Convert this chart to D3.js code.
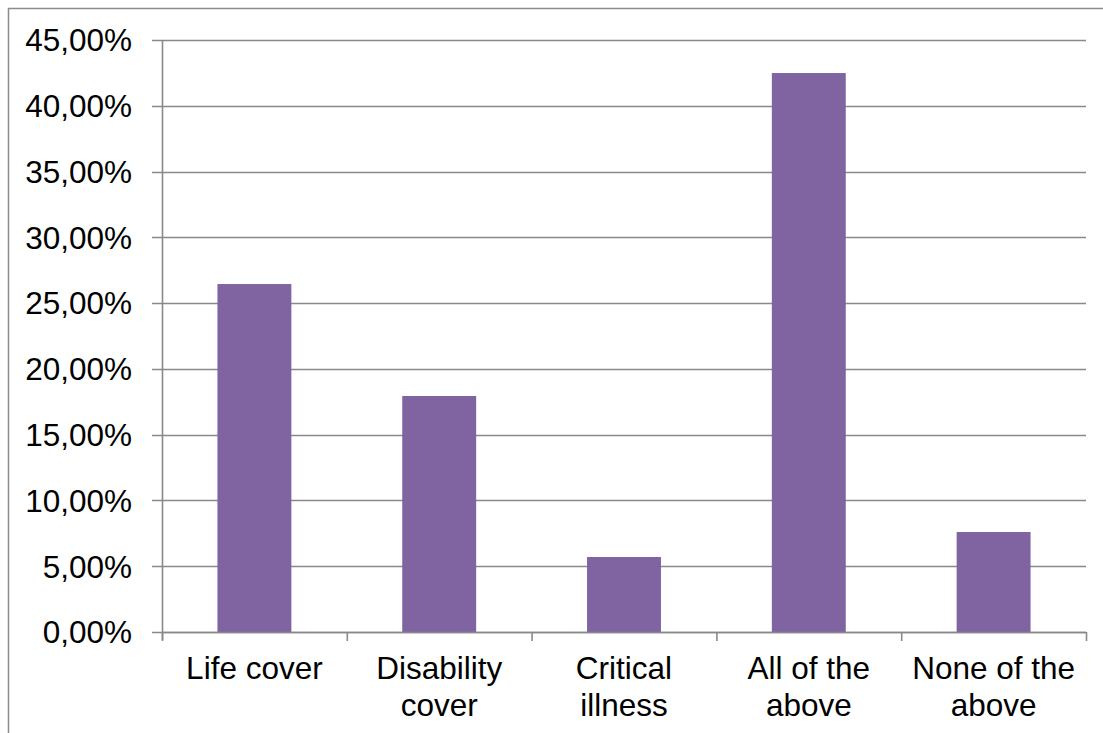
<!DOCTYPE html>
<html>
<head>
<meta charset="utf-8">
<script src="https://cdn.jsdelivr.net/npm/d3@7"></script>
<style>
  html, body { margin: 0; padding: 0; background: #fff; }
  svg { display: block; }
</style>
</head>
<body>
<svg id="chart" width="1103" height="733"></svg>
<script>
const categories = [["Life cover"], ["Disability", "cover"], ["Critical", "illness"], ["All of the", "above"], ["None of the", "above"]];
const values = [26.45, 17.94, 5.70, 42.49, 7.60];
const yTicks = [0, 5, 10, 15, 20, 25, 30, 35, 40, 45];

const svg = d3.select("#chart");
const W = 1103, H = 733;
const plotLeft = 162, plotRight = 1086, plotTop = 40, plotBottom = 632;
const font = "'Liberation Sans', Arial, sans-serif";
const fontSize = 31.5;
const gridColor = "#898989";

// outer frame (left and top edges)
svg.append("path")
  .attr("d", `M8.5,${H} L8.5,8.5 L${W},8.5`)
  .attr("fill", "none").attr("stroke", "#8c8c8c").attr("stroke-width", 1.5);

const labels = categories.map(c => c.join(" "));
const x = d3.scaleBand().domain(labels).range([plotLeft, plotRight]).paddingInner(0.6).paddingOuter(0.3);
const xb = d3.scaleBand().domain(labels).range([plotLeft, plotRight]);
const y = d3.scaleLinear().domain([0, 45]).range([plotBottom, plotTop]);

const fmt = v => d3.format(".2f")(v).replace(".", ",") + "%";

// horizontal gridlines with tick stubs
svg.append("g").selectAll("line").data(yTicks).join("line")
  .attr("x1", plotLeft - 10).attr("x2", plotRight)
  .attr("y1", d => Math.round(y(d)) + 0.5).attr("y2", d => Math.round(y(d)) + 0.5)
  .attr("stroke", gridColor).attr("stroke-width", 1.6);

// y-axis tick labels
svg.append("g").selectAll("text").data(yTicks).join("text")
  .attr("x", 132).attr("y", d => y(d))
  .attr("dy", "0.36em")
  .attr("text-anchor", "end")
  .attr("font-family", font).attr("font-size", fontSize).attr("fill", "#000")
  .text(fmt);

// bars
svg.append("g").selectAll("rect").data(values).join("rect")
  .attr("x", (d, i) => x(labels[i]))
  .attr("width", x.bandwidth())
  .attr("y", d => y(d))
  .attr("height", d => y(0) - y(d))
  .attr("fill", "#8064a2");

// axis lines
svg.append("line")
  .attr("x1", plotLeft + 0.5).attr("x2", plotLeft + 0.5).attr("y1", plotTop).attr("y2", plotBottom + 8)
  .attr("stroke", gridColor).attr("stroke-width", 1.6);
svg.append("line")
  .attr("x1", plotLeft).attr("x2", plotRight).attr("y1", plotBottom + 0.5).attr("y2", plotBottom + 0.5)
  .attr("stroke", gridColor).attr("stroke-width", 1.6);

// x-axis category tick marks
const bounds = labels.map(l => xb(l)).concat([plotRight]);
svg.append("g").selectAll("line").data(bounds).join("line")
  .attr("x1", d => d + 0.5).attr("x2", d => d + 0.5)
  .attr("y1", plotBottom).attr("y2", plotBottom + 9)
  .attr("stroke", gridColor).attr("stroke-width", 1.6);

// category labels
const cat = svg.append("g").selectAll("text").data(categories).join("text")
  .attr("text-anchor", "middle")
  .attr("font-family", font).attr("font-size", fontSize).attr("fill", "#000")
  .attr("x", (d, i) => xb(labels[i]) + xb.bandwidth() / 2)
  .attr("y", 679);
cat.selectAll("tspan").data(d => d).join("tspan")
  .attr("x", function () { return this.parentNode.getAttribute("x"); })
  .attr("dy", (d, i) => i === 0 ? 0 : 37)
  .text(d => d);
</script>
</body>
</html>
